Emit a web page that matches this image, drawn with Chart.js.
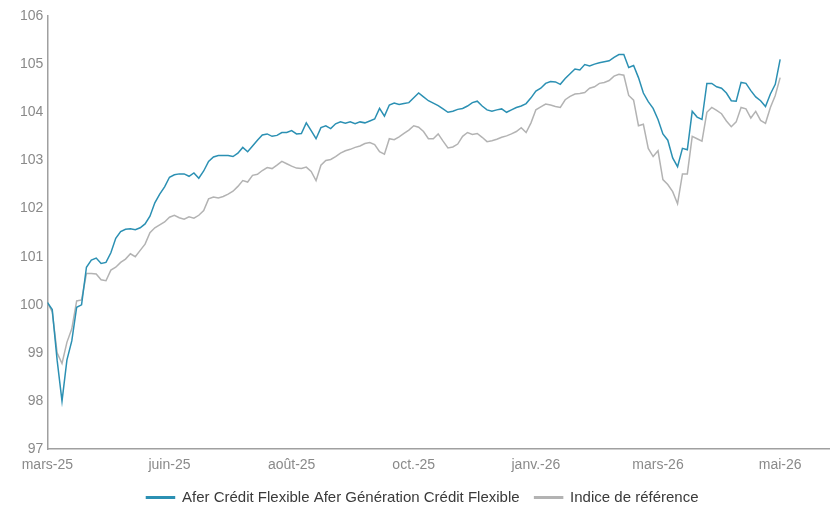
<!DOCTYPE html>
<html>
<head>
<meta charset="utf-8">
<script src="https://cdn.jsdelivr.net/npm/chart.js@4"></script>
<style>
html,body{margin:0;padding:0;background:#fff;}
#wrap{width:830px;height:506px;position:relative;}
</style>
</head>
<body>
<div id="wrap"><canvas id="c" width="830" height="506"></canvas></div>
<script>
// Tick labels of the date axis (one every 25 observations)
const tickLabels = ['mars-25','juin-25','août-25','oct.-25','janv.-26','mars-26','mai-26'];
const pointsPerTick = 25;

const seriesNames = ['Afer Crédit Flexible Afer Génération Crédit Flexible', 'Indice de référence'];

const fundValues = [
100.05,99.9,98.85,98.0,98.85,99.25,99.95,100.0,100.78,100.93,
100.97,100.86,100.88,101.08,101.38,101.52,101.57,101.58,101.56,101.6,
101.68,101.84,102.12,102.3,102.45,102.65,102.7,102.72,102.72,102.67,
102.74,102.63,102.78,102.98,103.07,103.1,103.1,103.1,103.08,103.15,
103.27,103.18,103.3,103.42,103.53,103.55,103.5,103.52,103.58,103.58,
103.62,103.55,103.56,103.78,103.62,103.45,103.68,103.72,103.66,103.76,
103.8,103.77,103.8,103.76,103.8,103.78,103.82,103.86,104.08,103.92,
104.15,104.19,104.16,104.18,104.2,104.3,104.4,104.32,104.24,104.19,
104.14,104.07,104.0,104.02,104.06,104.08,104.13,104.2,104.23,104.13,
104.05,104.02,104.05,104.07,104.0,104.05,104.1,104.13,104.18,104.3,
104.44,104.5,104.6,104.64,104.63,104.58,104.7,104.8,104.9,104.88,
104.99,104.96,105.0,105.03,105.05,105.07,105.14,105.2,105.2,104.93,
104.97,104.72,104.4,104.22,104.08,103.85,103.55,103.42,103.05,102.87,
103.25,103.22,104.02,103.9,103.85,104.6,104.6,104.53,104.5,104.4,
104.24,104.23,104.62,104.6,104.45,104.32,104.24,104.12,104.38,104.58,
105.1
];

const benchmarkValues = [
100.05,99.85,99.0,98.78,99.22,99.5,100.08,100.1,100.65,100.65,
100.64,100.52,100.5,100.72,100.78,100.88,100.95,101.06,101.0,101.13,
101.26,101.5,101.6,101.66,101.72,101.82,101.86,101.81,101.78,101.83,
101.8,101.86,101.96,102.2,102.24,102.22,102.25,102.3,102.36,102.46,
102.58,102.55,102.69,102.71,102.79,102.85,102.83,102.9,102.98,102.93,
102.88,102.84,102.83,102.86,102.77,102.58,102.9,103.0,103.02,103.08,
103.15,103.2,103.23,103.27,103.3,103.35,103.37,103.33,103.18,103.13,
103.45,103.43,103.49,103.56,103.63,103.72,103.69,103.6,103.45,103.45,
103.55,103.4,103.26,103.28,103.34,103.5,103.58,103.54,103.56,103.48,
103.39,103.41,103.44,103.48,103.51,103.55,103.6,103.68,103.58,103.78,
104.05,104.11,104.17,104.15,104.12,104.1,104.26,104.33,104.38,104.39,
104.41,104.5,104.53,104.6,104.62,104.66,104.75,104.79,104.77,104.35,
104.25,103.72,103.75,103.25,103.08,103.2,102.6,102.5,102.35,102.1,
102.72,102.72,103.5,103.45,103.4,104.0,104.1,104.04,103.97,103.82,
103.7,103.8,104.1,104.07,103.88,104.02,103.83,103.77,104.1,104.35,
104.72
];

const toXY = arr => arr.map((v, i) => ({x: i, y: v}));

const FONT = "'Liberation Sans', Arial, sans-serif";

new Chart(document.getElementById('c'), {
  type: 'line',
  data: {
    datasets: [
      {
        label: seriesNames[0],
        data: toXY(fundValues),
        borderColor: '#2b90b3',
        backgroundColor: '#2b90b3',
        borderWidth: 1.5,
        pointRadius: 0,
        tension: 0,
        order: 0
      },
      {
        label: seriesNames[1],
        data: toXY(benchmarkValues),
        borderColor: '#b3b3b3',
        backgroundColor: '#b3b3b3',
        borderWidth: 1.5,
        pointRadius: 0,
        tension: 0,
        order: 1
      }
    ]
  },
  options: {
    responsive: false,
    animation: false,
    layout: { padding: { top: 16, left: 16, right: 1, bottom: -9 } },
    plugins: {
      legend: {
        position: 'bottom',
        labels: {
          color: '#3a3a3a',
          font: { family: FONT, size: 15 },
          boxWidth: 28,
          boxHeight: 1.5,
          padding: 15
        }
      },
      tooltip: { enabled: false }
    },
    scales: {
      x: {
        type: 'linear',
        min: 0,
        max: 160,
        afterFit: s => { s.height -= 7; },
        grid: { display: false, drawTicks: false },
        border: { display: true, color: '#a0a0a0', width: 1.5 },
        ticks: {
          stepSize: pointsPerTick,
          includeBounds: false,
          autoSkip: false,
          maxRotation: 0,
          padding: 8,
          color: '#8a8a8a',
          font: { family: FONT, size: 14 },
          callback: v => {
            const k = v / pointsPerTick;
            return Number.isInteger(k) && k < tickLabels.length ? tickLabels[k] : '';
          }
        }
      },
      y: {
        min: 97,
        max: 106,
        grid: { display: false, drawTicks: false },
        border: { display: true, color: '#a0a0a0', width: 1.5 },
        ticks: {
          stepSize: 1,
          padding: 4,
          color: '#8a8a8a',
          font: { family: FONT, size: 14 }
        }
      }
    }
  }
});
</script>
</body>
</html>
